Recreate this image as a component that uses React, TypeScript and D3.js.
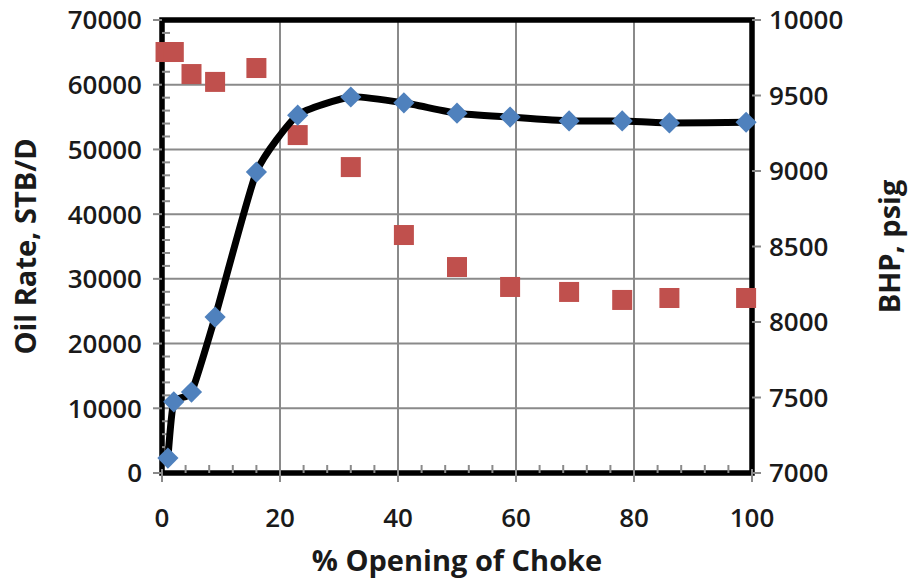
import React from "react";
import * as d3 from "d3";

// % opening of choke
const choke = [1, 2, 5, 9, 16, 23, 32, 41, 50, 59, 69, 78, 86, 99];
// oil rate, STB/D (left axis)
const oilRate = [2300, 11000, 12500, 24100, 46500, 55300, 58100, 57200, 55600, 55000, 54400, 54400, 54100, 54200];
// BHP, psig (right axis)
const bhpX = [0.6, 2, 5, 9, 16, 23, 32, 41, 50, 59, 69, 78, 86, 99];
const bhp = [9788, 9788, 9642, 9590, 9682, 9238, 9026, 8576, 8364, 8232, 8199, 8146, 8159, 8159];

const xTicks = [0, 20, 40, 60, 80, 100];
const yTicks = [0, 10000, 20000, 30000, 40000, 50000, 60000, 70000];
const y2Ticks = [7000, 7500, 8000, 8500, 9000, 9500, 10000];

const W = 910;
const H = 580;
const left = 162;
const right = 752;
const top = 20;
const bottom = 473;

const font = "'Open Sans', 'DejaVu Sans', sans-serif";

export default function App() {
  const x = d3.scaleLinear().domain([0, 100]).range([left, right]);
  const y = d3.scaleLinear().domain([0, 70000]).range([bottom, top]);
  const y2 = d3.scaleLinear().domain([7000, 10000]).range([bottom, top]);

  const line = d3
    .line<number>()
    .x((_, i) => x(choke[i]))
    .y((d) => y(d))
    .curve(d3.curveCardinal.tension(0.5));

  const minorY = d3.range(0, 70001, 2000).filter((v) => v % 10000 !== 0);
  const minorX = d3.range(0, 101, 4).filter((v) => v % 20 !== 0);

  const grid = "#8a8a8a";

  return (
    <svg width={W} height={H} style={{ position: "absolute", left: 0, top: 0, background: "#fff" }}>
      {/* gridlines */}
      {yTicks.slice(1, -1).map((t) => (
        <line key={"gy" + t} x1={left} x2={right} y1={y(t)} y2={y(t)} stroke={grid} strokeWidth={2} />
      ))}
      {xTicks.slice(1, -1).map((t) => (
        <line key={"gx" + t} x1={x(t)} x2={x(t)} y1={top} y2={bottom} stroke={grid} strokeWidth={2} />
      ))}

      {/* frame */}
      <rect x={left} y={top} width={right - left} height={bottom - top} fill="none" stroke="#000" strokeWidth={5.5} />

      {/* major ticks */}
      {yTicks.map((t) => (
        <line key={"ty" + t} x1={left - 9} x2={left} y1={y(t)} y2={y(t)} stroke={grid} strokeWidth={2} />
      ))}
      {y2Ticks.map((t) => (
        <line key={"ty2" + t} x1={right} x2={right + 9} y1={y2(t)} y2={y2(t)} stroke={grid} strokeWidth={2} />
      ))}
      {xTicks.map((t) => (
        <line key={"tx" + t} x1={x(t)} x2={x(t)} y1={bottom - 4} y2={bottom + 9} stroke={grid} strokeWidth={2} />
      ))}
      {/* minor ticks */}
      {minorY.map((t) => (
        <line key={"my" + t} x1={left} x2={left + 8} y1={y(t)} y2={y(t)} stroke={grid} strokeWidth={2} />
      ))}
      {minorX.map((t) => (
        <line key={"mx" + t} x1={x(t)} x2={x(t)} y1={bottom - 8} y2={bottom} stroke={grid} strokeWidth={2} />
      ))}

      {/* BHP squares */}
      {bhp.map((d, i) => (
        <rect key={"s" + i} x={x(bhpX[i]) - 10} y={y2(d) - 10} width={20} height={20} fill="#c0504d" />
      ))}

      {/* oil rate line */}
      <path d={line(oilRate) || ""} fill="none" stroke="#000" strokeWidth={7} strokeLinejoin="round" />
      {oilRate.map((d, i) => (
        <rect
          key={"d" + i}
          x={-7.5}
          y={-7.5}
          width={15}
          height={15}
          fill="#4f81bd"
          transform={`translate(${x(choke[i])},${y(d)}) rotate(45)`}
        />
      ))}

      {/* tick labels */}
      <g fontFamily={font} fontSize={26} fontWeight={600} fill="#1a1a1a">
        {yTicks.map((t) => (
          <text key={"ly" + t} x={left - 20} y={y(t)} dy="0.36em" textAnchor="end">
            {t}
          </text>
        ))}
        {y2Ticks.map((t) => (
          <text key={"ly2" + t} x={right + 17} y={y2(t)} dy="0.36em" textAnchor="start">
            {t}
          </text>
        ))}
        {xTicks.map((t) => (
          <text key={"lx" + t} x={x(t)} y={bottom + 54} textAnchor="middle">
            {t}
          </text>
        ))}
      </g>

      {/* axis titles */}
      <g fontFamily={font} fontSize={29} fontWeight={700} fill="#1a1a1a" textAnchor="middle">
        <text x={(left + right) / 2} y={571}>% Opening of Choke</text>
        <text transform={`translate(36,${(top + bottom) / 2}) rotate(-90)`}>Oil Rate, STB/D</text>
        <text transform={`translate(900,${(top + bottom) / 2}) rotate(-90)`}>BHP, psig</text>
      </g>
    </svg>
  );
}
